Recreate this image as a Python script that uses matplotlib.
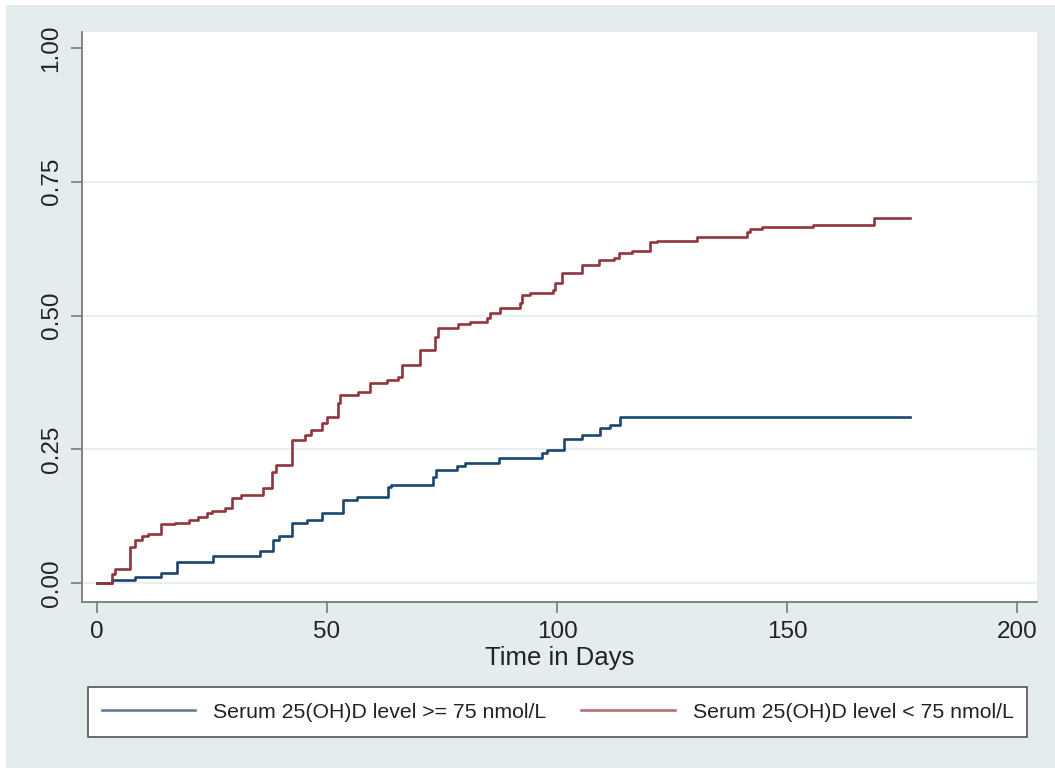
import numpy as np
import matplotlib
matplotlib.use("Agg")
import matplotlib.pyplot as plt
from matplotlib.patches import Rectangle

# Kaplan-Meier failure estimates
blue_days = [0, 3.3, 8.3, 14, 17.3, 25.3, 35.4, 38.3, 39.5, 42.3,
             45.6, 49, 53.5, 56.4, 63.2, 64, 73, 73.7, 78.2, 80,
             87.3, 96.7, 97.7, 101.4, 105.4, 109.3, 111.5, 113.7, 176.7]
blue_fail = [0, 0.006, 0.012, 0.019, 0.040, 0.050, 0.059, 0.080, 0.087, 0.112,
             0.118, 0.130, 0.155, 0.161, 0.180, 0.183, 0.199, 0.211, 0.218, 0.224,
             0.233, 0.243, 0.249, 0.269, 0.277, 0.289, 0.295, 0.311, 0.311]

red_days = [0, 3.2, 3.9, 7.2, 8.3, 9.7, 11, 14, 17, 20,
            22, 23.8, 25, 27.8, 29.3, 31.4, 36, 38, 39, 42.3,
            45.2, 46.5, 49, 50, 52.4, 52.8, 56.7, 59.3, 63, 65.5,
            66.2, 70.2, 73.5, 74.2, 78.5, 81, 84.7, 85.5, 87.6, 92,
            92.3, 94, 99.2, 99.5, 101, 105.4, 109, 112.4, 113.4, 116.2,
            120.2, 121.7, 130.4, 141.2, 141.9, 144.5, 155.7, 168.8, 176.7]
red_fail = [0, 0.016, 0.026, 0.068, 0.080, 0.087, 0.092, 0.110, 0.113, 0.118,
            0.123, 0.131, 0.135, 0.140, 0.159, 0.164, 0.177, 0.208, 0.220, 0.267,
            0.277, 0.286, 0.299, 0.311, 0.336, 0.351, 0.357, 0.374, 0.379, 0.386,
            0.407, 0.436, 0.460, 0.476, 0.484, 0.488, 0.495, 0.504, 0.514, 0.523,
            0.538, 0.542, 0.548, 0.560, 0.579, 0.594, 0.604, 0.607, 0.617, 0.621,
            0.638, 0.640, 0.647, 0.657, 0.662, 0.665, 0.669, 0.682, 0.682]

labels = ["Serum 25(OH)D level >= 75 nmol/L", "Serum 25(OH)D level < 75 nmol/L"]
xticks = [0, 50, 100, 150, 200]
yticks = [0.0, 0.25, 0.5, 0.75, 1.0]

plt.rcParams['font.family'] = ['Liberation Sans', 'DejaVu Sans']

W, H = 1055, 768
fig = plt.figure(figsize=(W / 100, H / 100), dpi=100, facecolor='white')

# Stata-like light blue graph region
bg = '#e4ecee'
fig.patches.append(Rectangle((6 / W, 0), 1 - 6 / W, 1 - 5 / H, transform=fig.transFigure,
                             facecolor=bg, edgecolor='none', zorder=-10))

ax = fig.add_axes([82 / W, 1 - 602 / H, (1037 - 82) / W, (602 - 32) / H])
ax.set_facecolor('white')

navy = '#1a476f'
maroon = '#90353b'
ax.step(blue_days, blue_fail, where='post', color=navy, lw=1.9, label=labels[0])
ax.step(red_days, red_fail, where='post', color=maroon, lw=1.9, label=labels[1])

ax.set_xlim(-3.26, 204.3)
ax.set_ylim(-0.0355, 1.03)
ax.set_xticks(xticks)
ax.set_yticks(yticks)
ax.set_xticklabels([str(t) for t in xticks])
ax.set_yticklabels(['%.2f' % t for t in yticks], rotation=90, va='center')

ax.grid(axis='y', color='#e8f0f1', lw=1.6)
ax.get_ygridlines()[-1].set_visible(False)
ax.set_axisbelow(True)

for s in ['top', 'right']:
    ax.spines[s].set_visible(False)
for s in ['left', 'bottom']:
    ax.spines[s].set_color('#7a7a7a')
    ax.spines[s].set_linewidth(1.3)

ax.tick_params(axis='both', length=8, width=1.2, color='#7a7a7a', labelsize=17.5,
               labelcolor='#222222')
ax.tick_params(axis='x', pad=6)
ax.tick_params(axis='y', pad=6)

ax.set_xlabel('Time in Days', fontsize=18.5, color='#222222', labelpad=2)

# legend box drawn separately so the entries can sit where the reference has them
fig.patches.append(Rectangle((88 / W, 1 - 737 / H), (1027 - 88) / W, 50 / H,
                             transform=fig.transFigure, facecolor='white',
                             edgecolor='#555555', lw=1.2, zorder=-5))
leg = fig.legend(loc='center left', ncol=2, bbox_to_anchor=(102 / W, 1 - 712 / H),
                 fontsize=15.3, frameon=False, handlelength=4.38,
                 handletextpad=0.85, columnspacing=1.65, borderpad=0, borderaxespad=0)
for t in leg.get_texts():
    t.set_color('#222222')
for l in leg.get_lines():
    l.set_alpha(0.7)

fig.savefig('out.png', dpi=100, facecolor='white')
